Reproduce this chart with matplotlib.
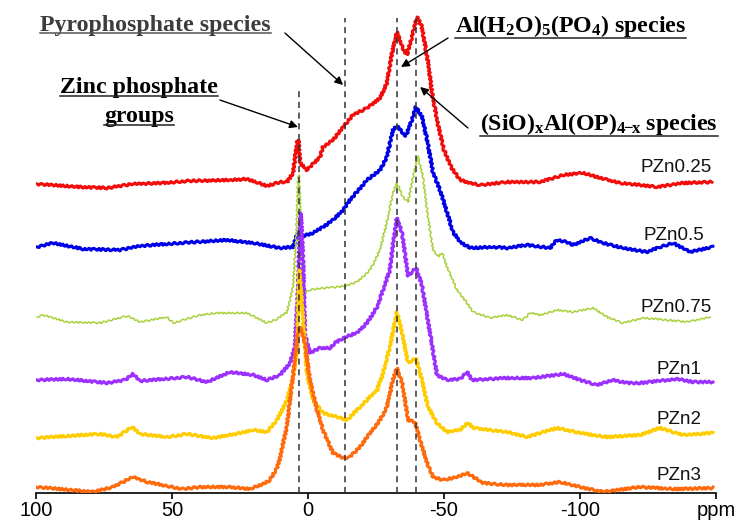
import matplotlib
matplotlib.use('Agg')
import matplotlib.pyplot as plt
from matplotlib.lines import Line2D
from matplotlib.transforms import IdentityTransform

plt.rcParams['mathtext.fontset'] = 'custom'
plt.rcParams['mathtext.rm'] = 'Liberation Serif:bold'
plt.rcParams['mathtext.it'] = 'Liberation Serif:bold:italic'
plt.rcParams['mathtext.bf'] = 'Liberation Serif:bold'
plt.rcParams['path.sketch'] = None

# ---------------- data ----------------
samples = ['PZn0.25', 'PZn0.5', 'PZn0.75', 'PZn1', 'PZn2', 'PZn3']
colors = ['#f20d0d', '#0000e6', '#a8d13c', '#9b30ff', '#ffcc00', '#ff6a0d']
offsets = [309, 246, 175, 112, 56, 5]
label_ppm = [-135.5, -134.5, -135.5, -136.5, -136.5, -136.5]
label_y = [325, 257, 185, 124, 73, 18]

ppm_red = [99.6, 83.8, 73.9, 64.3, 53.3, 44.5, 28.7, 22.4, 15.1, 10.3, 7.7, 5.5, 4.0, 3.5, 2.9, 0.4,
           -1.8, -4.4, -5.5, -9.2, -12.9, -16.5, -21.7, -26.5, -29.0, -30.9, -32.7, -34.6, -36.4,
           -38.2, -40.1, -41.9, -44.1, -45.6, -47.8, -50.0, -52.6, -55.9, -59.6, -63.2, -73.2,
           -85.3, -93.8, -101.1, -107.4, -114.7, -122.1, -128.3, -137.9, -148.5]
int_red = [0, -3, -4, 0, 1, 3, 4, 5, -2, 2, 2, 11, 42, 44, 21, 14,
           20, 27, 37, 44, 57, 69, 76, 86, 101, 131, 152, 137, 129,
           147, 167, 157, 122, 91, 59, 34, 17, 4, 1, -1, 2,
           2, 9, 11, 6, 1, -1, -3, 1, 2]

ppm_blue = [99.6, 93.8, 82.7, 69.1, 61.8, 47.1, 29.8, 20.2, 10.3, 5.5, 3.7, 1.8, -1.8, -5.5, -9.2,
            -12.9, -15.4, -21.7, -26.5, -29.0, -31.2, -32.7, -34.6, -36.0, -38.2, -39.7, -41.9,
            -43.8, -46.0, -48.5, -51.1, -53.3, -55.9, -59.6, -68.0, -73.2, -80.5, -89.0, -91.5,
            -95.2, -97.4, -103.7, -108.5, -115.8, -124.6, -129.4, -134.2, -140.4, -148.9]
int_blue = [0, 4, -2, -3, 1, 4, 7, 4, -1, 0, 15, 11, 14, 20, 27,
            37, 47, 67, 77, 90, 117, 121, 115, 111, 127, 140, 130,
            107, 74, 57, 35, 15, 5, -1, 0, -1, 2, -1, 7,
            5, 2, 9, 4, -1, -5, 0, 4, -5, 0]

ppm_green = [99.6, 97.4, 88.6, 76.5, 66.5, 61.8, 51.8, 49.6, 39.7, 33.5, 22.4, 15.1, 11.4, 7.7, 5.5,
             4.4, 3.7, 3.3, 2.9, 2.2, 1.1, -0.7, -5.5, -10.7, -13.6, -18.0, -22.8, -26.5, -29.4,
             -31.2, -32.7, -34.9, -36.8, -38.6, -40.4, -42.3, -44.1, -46.0, -47.8, -49.3, -51.1,
             -54.8, -58.5, -60.7, -66.9, -73.2, -79.0, -81.6, -85.3, -91.5, -97.4, -104.8, -109.9,
             -115.8, -123.2, -132.0, -139.3, -147.8]
int_green = [1, 3, -4, -5, 2, -4, 1, -5, 3, 5, 5, -5, -1, 6, 31,
             78, 138, 143, 118, 35, 25, 28, 30, 31, 32, 36, 48, 68, 101,
             125, 135, 121, 116, 141, 162, 141, 101, 68, 61, 65, 51,
             28, 15, 6, 0, 3, -2, 5, 3, 8, 6, 10, 1,
             -5, 0, -2, -4, 1]

ppm_purple = [99.6, 88.6, 73.9, 67.3, 64.3, 61.8, 44.5, 37.1, 28.7, 20.2, 15.1, 10.3, 6.6, 4.8, 3.7,
              2.9, 2.6, 1.8, 1.1, -0.7, -4.4, -8.1, -9.9, -13.6, -18.0, -21.7, -25.4, -27.6, -30.1,
              -31.2, -32.7, -34.6, -36.8, -38.6, -39.7, -41.9, -43.8, -45.6, -47.4, -51.1, -55.9,
              -58.5, -60.3, -73.2, -82.7, -93.8, -100.0, -106.3, -112.1, -117.3, -122.1, -135.7,
              -141.5, -148.9]
int_purple = [1, 2, -2, 1, 7, 0, 4, -1, 9, 6, 1, 6, 18, 34, 91,
              156, 168, 121, 46, 28, 33, 33, 38, 44, 48, 58, 74, 91, 111,
              136, 163, 148, 105, 110, 113, 96, 64, 36, 6, 1, 2,
              9, 1, 3, 3, 7, 1, -4, 1, -2, -2, 2,
              -1, -1]

ppm_yellow = [99.6, 88.6, 76.5, 70.2, 64.7, 61.8, 51.8, 44.5, 34.9, 25.0, 20.2, 15.1, 11.4, 7.7, 5.5,
              4.0, 3.3, 2.6, 1.8, 0.4, -1.8, -5.5, -10.7, -14.3, -18.0, -21.7, -25.4, -27.6, -30.1,
              -32.7, -34.6, -36.8, -39.7, -41.9, -44.1, -47.4, -51.1, -55.9, -58.8, -60.7, -73.2,
              -80.5, -91.5, -100.0, -109.9, -122.1, -129.4, -137.9, -148.9]
int_yellow = [-1, 1, 3, 0, 10, 3, 0, 3, -1, 4, 7, 5, 17, 37, 60,
              87, 167, 147, 117, 64, 37, 24, 20, 17, 27, 37, 47, 64, 90,
              125, 104, 74, 79, 57, 30, 14, 5, 7, 14, 9, 5,
              0, 9, 4, 0, 2, 9, 2, 4]

ppm_orange = [100.0, 91.2, 79.0, 71.7, 64.3, 59.2, 51.8, 46.0, 39.7, 28.7, 21.3, 16.5, 14.0, 11.4,
              10.3, 7.7, 5.5, 3.7, 2.9, 1.1, -0.7, -3.3, -5.5, -9.2, -12.9, -15.4, -19.1, -22.8,
              -26.5, -29.0, -31.2, -32.7, -34.6, -36.8, -39.3, -41.2, -43.8, -46.0, -49.6, -54.8,
              -58.5, -64.3, -73.2, -85.3, -92.6, -100.0, -108.5, -121.7, -135.3, -148.9]
int_orange = [1, -1, -4, 1, 11, 6, 2, -1, 1, 1, -1, 4, 8, 20,
              30, 63, 113, 156, 161, 145, 108, 78, 58, 35, 30, 31, 41, 55,
              68, 81, 108, 120, 105, 68, 66, 48, 25, 11, 8, 11,
              15, 5, 3, 3, 6, 1, -4, 1, -1, 0]

spectra_ppm = [ppm_red, ppm_blue, ppm_green, ppm_purple, ppm_yellow, ppm_orange]
spectra_int = [int_red, int_blue, int_green, int_purple, int_yellow, int_orange]
line_widths = [2.2, 2.2, 1.1, 2.2, 2.2, 2.2]

ref_ppm = [3.2, -13.6, -32.8, -39.7]
ref_top = [406, 475, 475, 475]

tick_vals = [100, 50, 0, -50, -100, -150]
tick_labels = ['100', '50', '0', '-50', '-100', 'ppm']

# ---------------- figure ----------------
W, H = 736, 521
fig = plt.figure(figsize=(W / 100, H / 100), dpi=100)
ax = fig.add_axes([36 / W, (H - 493) / H, 680 / W, 493 / H])
ax.set_xlim(100, -150)
ax.set_ylim(0, 493)
ax.patch.set_alpha(0)

for p, v, c, off, lw in zip(spectra_ppm, spectra_int, colors, offsets, line_widths):
    ln, = ax.plot(p, [off + s for s in v], color=c, lw=lw, solid_joinstyle='round', zorder=3)
    # jagged rendering style resembling the noisy NMR traces
    ln.set_sketch_params(scale=1.0 if lw > 2 else 0.8, length=5, randomness=2)

for xr, top in zip(ref_ppm, ref_top):
    ax.plot([xr, xr], [0, top], color='#333333', lw=1.1, ls=(0, (4, 3)), zorder=4)

for s, lx, ly in zip(samples, label_ppm, label_y):
    ax.text(lx, ly, s, ha='center', va='center', fontsize=13.5,
            family='Liberation Sans', color='#111111', zorder=5)

for sp in ['left', 'right', 'top']:
    ax.spines[sp].set_visible(False)
ax.spines['bottom'].set_linewidth(1.2)
ax.set_yticks([])
ax.set_xticks(tick_vals)
ax.set_xticklabels(tick_labels, family='Liberation Sans', fontsize=14.5)
ax.tick_params(axis='x', direction='out', length=4, width=1.2, pad=2)

serif = dict(family='Liberation Serif', weight='bold', fontsize=17.2)
arrowp = dict(arrowstyle='-|>', color='black', lw=1.0, mutation_scale=12, shrinkA=0, shrinkB=0)

texts = []
t1 = ax.text(98.5, 462, 'Pyrophosphate species', ha='left', va='baseline', color='#3c3c3c', **serif)
texts.append((t1, 462, 2, '#555555'))
ax.annotate('', xy=(-12.9, 408), xytext=(8.5, 460), arrowprops=arrowp)

t2 = ax.text(62.1, 400, 'Zinc phosphate', ha='center', va='baseline', color='black', **serif)
t3 = ax.text(62.1, 371, 'groups', ha='center', va='baseline', color='black', **serif)
texts.append((t2, 400, 3, '#222222'))
texts.append((t3, 371, 3, '#222222'))
ax.annotate('', xy=(3.7, 366), xytext=(32.4, 393), arrowprops=arrowp)

t4 = ax.text(-54.0, 461, r'Al(H$_2$O)$_5$(PO$_4$) species', ha='left', va='baseline',
             color='black', **serif)
texts.append((t4, 461, 6, '#222222'))
ax.annotate('', xy=(-34.2, 426), xytext=(-51.5, 455), arrowprops=arrowp)

t5 = ax.text(-63.2, 363, r'(SiO)$_\mathrm{x}$Al(OP)$_\mathrm{4\!\!-\!\!x}$ species', ha='left',
             va='baseline', color='black', **serif)
texts.append((t5, 363, 6, '#222222'))
ax.annotate('', xy=(-41.2, 406), xytext=(-58.8, 365), arrowprops=arrowp)

fig.canvas.draw()
renderer = fig.canvas.get_renderer()
for t, yb, drop, col in texts:
    bb = t.get_window_extent(renderer)
    ybase = ax.transData.transform((0, yb))[1]
    fig.add_artist(Line2D([bb.x0, bb.x1], [ybase - drop, ybase - drop], transform=IdentityTransform(),
                          color=col, lw=1.1))

fig.savefig('out.png', dpi=100)
